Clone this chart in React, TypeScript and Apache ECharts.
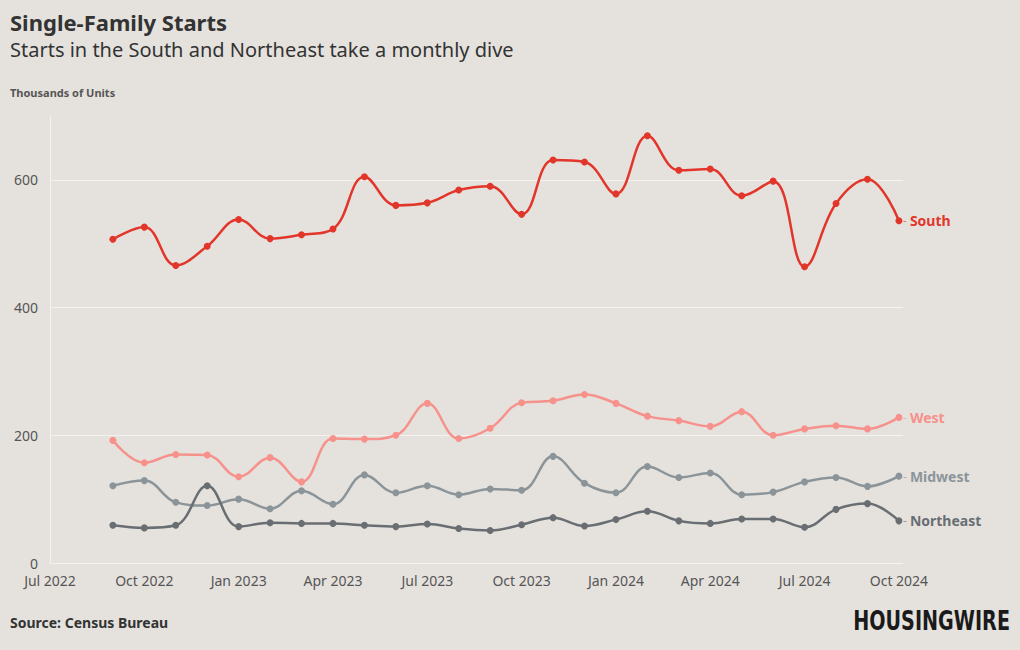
import React, { useEffect, useRef } from "react";
import * as echarts from "echarts";

// Months indexed from Jul 2022 (index 0); data starts Sep 2022 (index 2)
const MONTHS = ["Jan", "Feb", "Mar", "Apr", "May", "Jun", "Jul", "Aug", "Sep", "Oct", "Nov", "Dec"];
const START_INDEX = 2; // Sep 2022

const south = [507, 526, 466, 496, 538, 508, 514, 523, 605, 560, 564, 584, 590, 546, 631, 628, 578, 669, 615, 617, 575, 598, 464, 563, 601, 536];
const west = [192, 157, 170, 169, 135, 165, 127, 195, 194, 200, 250, 195, 211, 251, 254, 264, 250, 230, 223, 214, 237, 200, 210, 215, 210, 228];
const midwest = [121, 129, 95, 90, 100, 85, 113, 92, 138, 110, 121, 107, 116, 114, 167, 125, 110, 151, 134, 141, 107, 111, 127, 134, 120, 136];
const northeast = [59, 55, 59, 121, 57, 63, 62, 62, 59, 57, 61, 54, 51, 60, 71, 58, 68, 81, 66, 62, 69, 69, 56, 84, 93, 66];

const seriesDefs = [
  { name: "South", data: south, color: "#E2362B" },
  { name: "West", data: west, color: "#F7918B" },
  { name: "Midwest", data: midwest, color: "#8B9599" },
  { name: "Northeast", data: northeast, color: "#696E72" },
];

const FONT = "'Noto Sans', sans-serif";

function monthLabel(idx: number): string {
  const m = 6 + Math.round(idx);
  return `${MONTHS[m % 12]} ${2022 + Math.floor(m / 12)}`;
}

export default function App() {
  const ref = useRef<HTMLDivElement>(null);
  useEffect(() => {
    if (!ref.current) return;
    const chart = echarts.init(ref.current, null, { renderer: "svg" });
    chart.setOption({
      animation: false,
      backgroundColor: "#E5E2DE",
      textStyle: { fontFamily: FONT },
      grid: { left: 50, right: 117, top: 116, bottom: 87, containLabel: false },
      xAxis: {
        type: "value",
        min: 0,
        max: 27.13,
        interval: 3,
        axisLine: { show: false },
        axisTick: { show: false },
        splitLine: { show: false },
        axisLabel: {
          showMaxLabel: false,
          color: "#555",
          fontSize: 14,
          lineHeight: 14,
          fontFamily: FONT,
          margin: 10,
          formatter: (v: number) => monthLabel(v),
        },
      },
      yAxis: {
        type: "value",
        min: 0,
        max: 700,
        interval: 200,
        axisLine: { show: true, lineStyle: { color: "#F4F2EF", width: 1 } },
        axisTick: { show: false },
        splitLine: { show: true, showMaxLine: false, lineStyle: { color: "#F4F2EF", width: 1 } },
        axisLabel: {
          showMaxLabel: false,
          color: "#555",
          fontSize: 14,
          lineHeight: 12,
          fontFamily: FONT,
          margin: 12,
        },
      },
      series: seriesDefs.map((s) => ({
        type: "line",
        name: s.name,
        data: s.data.map((v, i) => [i + START_INDEX, v]),
        smooth: 0.4,
        symbol: "circle",
        symbolSize: 7,
        lineStyle: { color: s.color, width: 2.5 },
        itemStyle: { color: s.color },
        endLabel: {
          show: true,
          distance: 4,
          formatter: `{d|-} {n|${s.name}}`,
          rich: {
            d: { color: s.color, opacity: 0.6, fontSize: 12, fontFamily: FONT },
            n: { color: s.color, fontSize: 14, fontWeight: "bold", fontFamily: FONT },
          },
        },
      })),
      graphic: [
        {
          type: "text",
          left: 10,
          top: 10,
          style: { text: "Single-Family Starts", fontSize: 22, lineHeight: 24, fontWeight: "bold", fill: "#333", fontFamily: FONT },
        },
        {
          type: "text",
          left: 10,
          top: 38,
          style: { text: "Starts in the South and Northeast take a monthly dive", fontSize: 20, lineHeight: 22, fill: "#333", fontFamily: FONT },
        },
        {
          type: "text",
          left: 10,
          top: 87,
          style: { text: "Thousands of Units", fontSize: 11, fontWeight: "bold", fill: "#555", fontFamily: FONT },
        },
        {
          type: "text",
          left: 10,
          top: 615,
          style: { text: "Source: Census Bureau", fontSize: 14, fontWeight: "bold", fill: "#333", fontFamily: FONT },
        },
        {
          type: "text",
          x: 1010,
          y: 621,
          scaleX: 0.82,
          style: {
            text: "HOUSINGWIRE",
            fontSize: 26,
            fontWeight: 900,
            fill: "#1a1a1a",
            align: "right",
            verticalAlign: "middle",
            fontFamily: "'DejaVu Sans Condensed', 'Liberation Sans Narrow', sans-serif",
          },
        },
      ],
    });
    return () => chart.dispose();
  }, []);
  return <div ref={ref} style={{ position: "fixed", left: 0, top: 0, width: 1020, height: 650 }} />;
}
